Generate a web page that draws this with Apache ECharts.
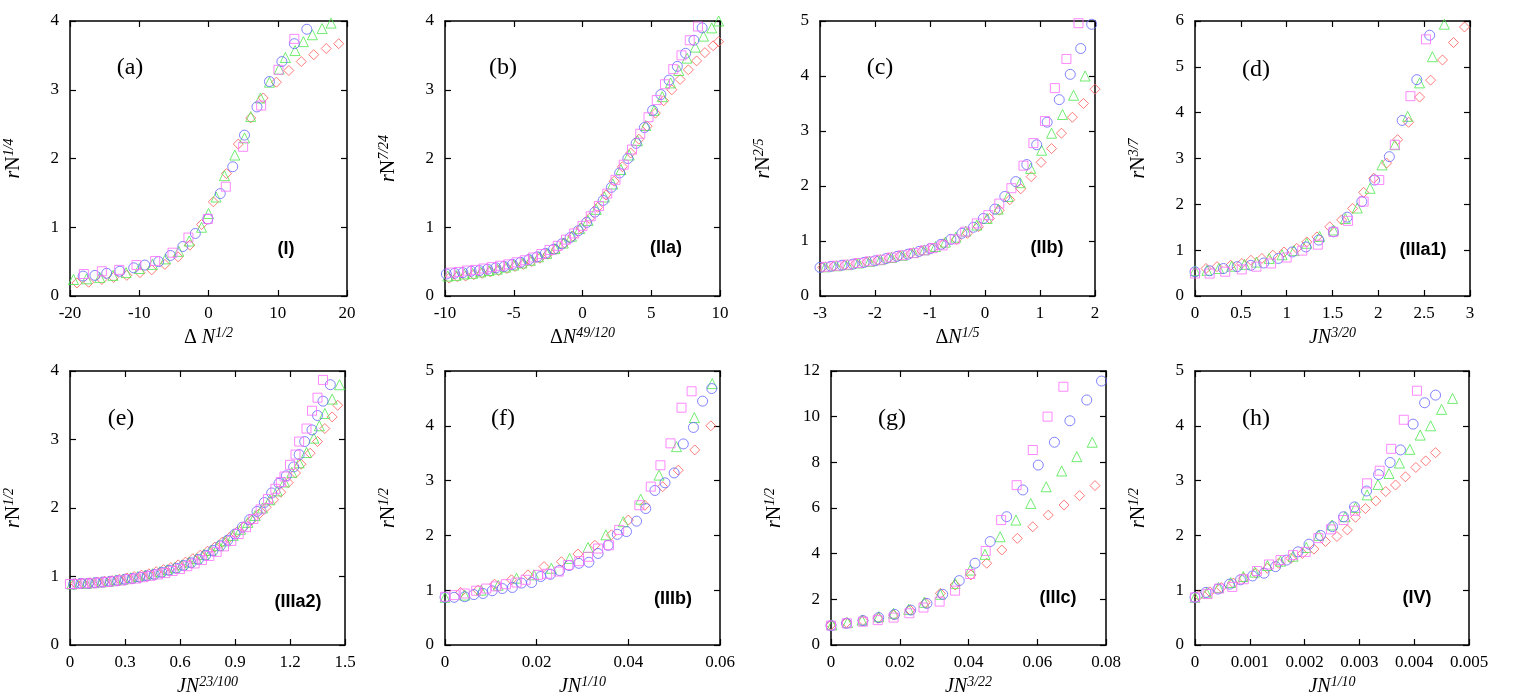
<!DOCTYPE html>
<html>
<head>
<meta charset="utf-8">
<script src="https://cdn.jsdelivr.net/npm/echarts@6.0.0/dist/echarts.min.js"></script>
<style>
  body { margin: 0; background: #fff; }
  #chart { width: 1514px; height: 700px; }
</style>
</head>
<body>
<div id="chart"></div>
<script>
// 数据: 每个面板四组点 (magenta 方块, blue 圆, green 三角, red 菱形)
// (a) regime I
const aMagenta = [[-18.0,0.32],[-15.4,0.36],[-12.9,0.38],[-10.4,0.45],[-7.7,0.51],[-5.2,0.63],[-2.9,0.85],[-0.1,1.12],[2.5,1.59],[5.0,2.17],[7.6,2.77],[10.1,3.29],[12.4,3.74]]
const aBlue = [[-18.1,0.29],[-16.4,0.30],[-14.7,0.33],[-12.8,0.36],[-10.8,0.41],[-9.2,0.45],[-7.2,0.50],[-5.5,0.59],[-3.7,0.72],[-1.9,0.91],[-0.1,1.12],[1.7,1.49],[3.5,1.88],[5.2,2.34],[7.0,2.75],[8.8,3.12],[10.6,3.41],[12.4,3.67],[14.2,3.88]]
const aGreen = [[-19.5,0.24],[-17.6,0.25],[-15.7,0.27],[-13.8,0.30],[-11.9,0.34],[-10.0,0.40],[-8.1,0.46],[-6.2,0.54],[-4.3,0.65],[-2.8,0.80],[-1.0,1.0],[0.0,1.2],[1.1,1.44],[2.3,1.75],[3.8,2.05],[5.2,2.3],[6.1,2.61],[7.5,2.88],[8.8,3.11],[10.2,3.3],[11.1,3.47],[12.5,3.57],[13.7,3.70],[15.0,3.80],[16.4,3.89],[17.7,3.97]]
const aRed = [[-19.0,0.19],[-17.3,0.20],[-15.4,0.24],[-13.7,0.27],[-11.8,0.30],[-9.9,0.34],[-8.2,0.38],[-6.3,0.46],[-4.4,0.57],[-2.7,0.74],[-1.0,1.04],[0.7,1.37],[2.6,1.78],[4.3,2.21],[6.1,2.59],[7.9,2.88],[9.8,3.11],[11.6,3.28],[13.4,3.41],[15.2,3.51],[17.0,3.60],[18.8,3.67]]

// (b) regime IIa
const bMagenta = [[-9.6,0.34],[-9.0,0.35],[-8.4,0.37],[-7.8,0.38],[-7.2,0.40],[-6.6,0.42],[-6.0,0.44],[-5.4,0.46],[-4.8,0.49],[-4.2,0.52],[-3.6,0.56],[-3.0,0.61],[-2.4,0.67],[-1.8,0.73],[-1.2,0.82],[-0.6,0.91],[0.0,1.02],[0.6,1.16],[1.2,1.31],[1.8,1.49],[2.4,1.69],[3.0,1.91],[3.6,2.13],[4.2,2.36],[4.8,2.6],[5.4,2.85],[6.0,3.08],[6.6,3.3],[7.2,3.5],[7.8,3.72],[8.4,3.92]]
const bBlue = [[-9.9,0.32],[-9.3,0.33],[-8.7,0.34],[-8.1,0.36],[-7.5,0.37],[-6.9,0.39],[-6.3,0.41],[-5.7,0.43],[-5.1,0.46],[-4.5,0.49],[-3.9,0.53],[-3.3,0.57],[-2.7,0.62],[-2.1,0.68],[-1.5,0.76],[-0.9,0.85],[-0.3,0.95],[0.3,1.07],[0.9,1.22],[1.5,1.39],[2.1,1.58],[2.7,1.79],[3.3,2.0],[3.9,2.22],[4.5,2.45],[5.1,2.7],[5.7,2.93],[6.3,3.14],[6.9,3.34],[7.5,3.53],[8.1,3.72],[8.7,3.9]]
const bGreen = [[-9.8,0.29],[-9.2,0.30],[-8.6,0.32],[-8.0,0.33],[-7.4,0.35],[-6.8,0.37],[-6.2,0.39],[-5.6,0.42],[-5.0,0.45],[-4.4,0.48],[-3.8,0.52],[-3.2,0.57],[-2.6,0.62],[-2.0,0.69],[-1.4,0.77],[-0.8,0.87],[-0.2,0.98],[0.4,1.1],[1.0,1.26],[1.6,1.44],[2.2,1.63],[2.8,1.84],[3.4,2.05],[4.0,2.26],[4.6,2.48],[5.2,2.7],[5.8,2.9],[6.4,3.1],[7.0,3.28],[7.6,3.46],[8.2,3.62],[8.8,3.78],[9.4,3.9],[9.9,4.0]]
const bRed = [[-9.7,0.26],[-9.1,0.28],[-8.5,0.29],[-7.9,0.31],[-7.3,0.33],[-6.7,0.35],[-6.1,0.37],[-5.5,0.40],[-4.9,0.43],[-4.3,0.46],[-3.7,0.5],[-3.1,0.55],[-2.5,0.61],[-1.9,0.68],[-1.3,0.77],[-0.7,0.87],[-0.1,0.99],[0.5,1.13],[1.1,1.29],[1.7,1.47],[2.3,1.67],[2.9,1.88],[3.5,2.08],[4.1,2.28],[4.7,2.47],[5.3,2.66],[5.9,2.84],[6.5,3.0],[7.1,3.15],[7.7,3.29],[8.3,3.42],[8.9,3.54],[9.5,3.64],[9.9,3.7]]

// (c) regime IIb
const cMagenta = [[-2.9,0.53],[-2.7,0.55],[-2.5,0.57],[-2.3,0.6],[-2.1,0.63],[-1.9,0.66],[-1.7,0.7],[-1.5,0.74],[-1.3,0.78],[-1.1,0.83],[-0.95,0.87],[-0.77,0.92],[-0.55,1.03],[-0.36,1.17],[-0.15,1.32],[0.06,1.47],[0.26,1.68],[0.48,1.96],[0.7,2.37],[0.88,2.78],[1.09,3.18],[1.27,3.78],[1.48,4.31],[1.7,4.96]]
const cBlue = [[-3.0,0.52],[-2.8,0.54],[-2.6,0.56],[-2.4,0.58],[-2.2,0.61],[-2.0,0.64],[-1.8,0.68],[-1.6,0.72],[-1.4,0.76],[-1.2,0.81],[-1.0,0.86],[-0.8,0.94],[-0.62,1.03],[-0.42,1.14],[-0.21,1.25],[-0.03,1.41],[0.18,1.58],[0.36,1.81],[0.56,2.08],[0.76,2.39],[0.94,2.75],[1.13,3.16],[1.35,3.57],[1.55,4.03],[1.74,4.5],[1.94,4.94]]
const cGreen = [[-2.9,0.53],[-2.7,0.55],[-2.5,0.57],[-2.3,0.6],[-2.1,0.63],[-1.9,0.66],[-1.7,0.7],[-1.5,0.74],[-1.3,0.79],[-1.1,0.84],[-0.9,0.9],[-0.72,0.98],[-0.53,1.07],[-0.35,1.18],[-0.15,1.29],[0.04,1.41],[0.24,1.58],[0.42,1.81],[0.64,2.06],[0.83,2.32],[1.03,2.65],[1.21,2.96],[1.41,3.3],[1.61,3.65],[1.82,4.0]]
const cRed = [[-2.95,0.52],[-2.75,0.54],[-2.55,0.56],[-2.35,0.59],[-2.15,0.62],[-1.95,0.65],[-1.75,0.69],[-1.55,0.73],[-1.35,0.77],[-1.15,0.82],[-0.95,0.87],[-0.75,0.95],[-0.52,1.03],[-0.32,1.14],[-0.12,1.26],[0.08,1.41],[0.26,1.56],[0.45,1.75],[0.65,1.95],[0.84,2.17],[1.02,2.43],[1.21,2.68],[1.39,2.96],[1.59,3.25],[1.79,3.5],[2.0,3.76]]

// (d) regime IIIa1
const dMagenta = [[0,0.49],[0.16,0.49],[0.33,0.53],[0.51,0.58],[0.67,0.64],[0.83,0.71],[1.0,0.84],[1.17,0.99],[1.34,1.12],[1.51,1.4],[1.67,1.64],[1.84,2.06],[2.01,2.53],[2.18,3.3],[2.35,4.36],[2.52,5.6]]
const dBlue = [[0,0.53],[0.16,0.55],[0.31,0.6],[0.46,0.64],[0.61,0.67],[0.75,0.72],[0.91,0.82],[1.06,0.96],[1.21,1.07],[1.35,1.22],[1.51,1.4],[1.66,1.72],[1.82,2.06],[1.96,2.53],[2.12,3.04],[2.26,3.83],[2.42,4.72],[2.56,5.69]]
const dGreen = [[0,0.55],[0.13,0.56],[0.26,0.6],[0.4,0.65],[0.54,0.69],[0.67,0.74],[0.81,0.82],[0.95,0.9],[1.08,0.99],[1.22,1.15],[1.36,1.3],[1.51,1.44],[1.64,1.69],[1.77,1.92],[1.91,2.35],[2.04,2.86],[2.18,3.3],[2.32,3.92],[2.45,4.65],[2.59,5.22],[2.72,5.93]]
const dRed = [[0.12,0.6],[0.24,0.64],[0.39,0.67],[0.51,0.71],[0.61,0.78],[0.73,0.82],[0.85,0.89],[0.97,0.96],[1.11,1.04],[1.22,1.18],[1.33,1.29],[1.47,1.51],[1.6,1.66],[1.72,1.91],[1.84,2.26],[1.95,2.57],[2.09,2.9],[2.21,3.41],[2.33,3.79],[2.45,4.34],[2.57,4.71],[2.7,5.15],[2.82,5.53],[2.94,5.87]]

// (e) regime IIIa2
const eMagenta = [[0.0,0.89],[0.04,0.89],[0.08,0.9],[0.12,0.9],[0.16,0.91],[0.2,0.92],[0.24,0.93],[0.28,0.94],[0.32,0.96],[0.36,0.97],[0.4,0.99],[0.44,1.01],[0.48,1.03],[0.52,1.05],[0.56,1.08],[0.6,1.11],[0.64,1.15],[0.68,1.19],[0.72,1.24],[0.76,1.3],[0.8,1.36],[0.84,1.44],[0.88,1.52],[0.92,1.62],[0.96,1.72],[1.0,1.84],[1.04,1.98],[1.08,2.13],[1.12,2.28],[1.15,2.38],[1.17,2.46],[1.2,2.63],[1.23,2.78],[1.25,2.97],[1.29,3.16],[1.32,3.42],[1.35,3.61],[1.38,3.87]]
const eBlue = [[0.02,0.89],[0.06,0.9],[0.1,0.9],[0.14,0.91],[0.18,0.92],[0.22,0.93],[0.26,0.94],[0.3,0.96],[0.34,0.97],[0.38,0.99],[0.42,1.01],[0.46,1.03],[0.5,1.06],[0.54,1.09],[0.58,1.12],[0.62,1.16],[0.66,1.2],[0.7,1.25],[0.74,1.31],[0.78,1.38],[0.82,1.45],[0.86,1.53],[0.9,1.62],[0.94,1.72],[0.98,1.83],[1.02,1.95],[1.06,2.08],[1.1,2.22],[1.14,2.36],[1.18,2.47],[1.22,2.6],[1.25,2.78],[1.28,2.97],[1.32,3.14],[1.35,3.35],[1.38,3.56],[1.42,3.8]]
const eGreen = [[0.01,0.89],[0.05,0.9],[0.09,0.9],[0.13,0.91],[0.17,0.92],[0.21,0.93],[0.25,0.95],[0.29,0.96],[0.33,0.98],[0.37,1.0],[0.41,1.02],[0.45,1.04],[0.49,1.07],[0.53,1.1],[0.57,1.13],[0.61,1.17],[0.65,1.21],[0.69,1.26],[0.73,1.32],[0.77,1.38],[0.81,1.45],[0.85,1.52],[0.89,1.6],[0.93,1.69],[0.97,1.79],[1.01,1.89],[1.05,2.0],[1.09,2.12],[1.13,2.25],[1.17,2.38],[1.21,2.52],[1.25,2.66],[1.29,2.81],[1.33,3.02],[1.36,3.2],[1.39,3.38],[1.43,3.59],[1.47,3.8]]
const eRed = [[0.03,0.9],[0.07,0.9],[0.11,0.91],[0.15,0.92],[0.19,0.93],[0.23,0.94],[0.27,0.96],[0.31,0.98],[0.35,1.0],[0.39,1.02],[0.43,1.04],[0.47,1.07],[0.51,1.1],[0.55,1.13],[0.59,1.17],[0.63,1.21],[0.67,1.26],[0.71,1.31],[0.75,1.37],[0.79,1.43],[0.83,1.5],[0.87,1.57],[0.91,1.65],[0.95,1.73],[0.99,1.82],[1.03,1.91],[1.07,2.01],[1.11,2.12],[1.15,2.23],[1.19,2.37],[1.23,2.51],[1.26,2.64],[1.31,2.8],[1.35,2.97],[1.39,3.16],[1.43,3.33],[1.46,3.5]]

// (f) regime IIIb
const fMagenta = [[0.0,0.88],[0.0021,0.91],[0.0043,0.94],[0.0068,0.99],[0.009,1.03],[0.0111,1.07],[0.0133,1.11],[0.0156,1.14],[0.0176,1.19],[0.0203,1.28],[0.0223,1.3],[0.0248,1.34],[0.0269,1.46],[0.0293,1.53],[0.0312,1.61],[0.0334,1.76],[0.0358,1.82],[0.038,2.1],[0.0424,2.55],[0.0449,2.89],[0.047,3.28],[0.0492,3.68],[0.0516,4.33],[0.0538,4.63]]
const fBlue = [[0.0,0.87],[0.002,0.87],[0.0043,0.88],[0.0063,0.92],[0.0083,0.94],[0.0103,0.99],[0.0125,1.03],[0.0147,1.05],[0.0167,1.13],[0.0189,1.14],[0.0209,1.25],[0.023,1.29],[0.025,1.36],[0.0271,1.45],[0.0292,1.49],[0.0314,1.51],[0.0334,1.67],[0.0356,1.82],[0.0376,2.02],[0.0396,2.07],[0.0418,2.26],[0.0438,2.49],[0.0458,2.82],[0.048,2.96],[0.05,3.14],[0.052,3.67],[0.0542,3.97],[0.0562,4.45],[0.0582,4.68]]
const fGreen = [[0.0,0.87],[0.0043,0.91],[0.0079,1.0],[0.0116,1.09],[0.0156,1.22],[0.0194,1.28],[0.0232,1.4],[0.0272,1.58],[0.0312,1.78],[0.0351,2.01],[0.0389,2.25],[0.0427,2.66],[0.0467,3.1],[0.0505,3.62],[0.0544,4.15],[0.0583,4.77]]
const fRed = [[0.0034,0.96],[0.0072,1.0],[0.0108,1.11],[0.0145,1.19],[0.0181,1.28],[0.0216,1.43],[0.0254,1.52],[0.029,1.66],[0.0327,1.82],[0.0363,2.01],[0.04,2.28],[0.0436,2.55],[0.0475,2.89],[0.0509,3.19],[0.0545,3.56],[0.058,4.0]]

// (g) regime IIIc
const gMagenta = [[0.0,0.85],[0.0046,0.95],[0.0093,1.02],[0.0136,1.09],[0.0182,1.2],[0.0228,1.39],[0.0269,1.64],[0.0316,1.9],[0.0361,2.38],[0.0405,3.11],[0.045,4.12],[0.0495,5.47],[0.054,7.0],[0.0587,8.54],[0.063,10.0],[0.0676,11.31]]
const gBlue = [[0.0,0.85],[0.0045,0.95],[0.0093,1.07],[0.0139,1.2],[0.0185,1.34],[0.0232,1.53],[0.0279,1.82],[0.0325,2.22],[0.0373,2.82],[0.0419,3.58],[0.0463,4.53],[0.0511,5.62],[0.0558,6.79],[0.0603,7.88],[0.065,8.88],[0.0695,9.82],[0.0744,10.73],[0.0787,11.56]]
const gGreen = [[0.0003,0.88],[0.0048,0.98],[0.009,1.09],[0.0139,1.24],[0.0182,1.39],[0.0226,1.56],[0.0271,1.87],[0.0318,2.22],[0.0361,2.7],[0.0405,3.28],[0.0448,3.97],[0.0492,4.74],[0.0538,5.47],[0.0581,6.2],[0.0626,6.93],[0.0671,7.62],[0.0715,8.25],[0.076,8.88]]
const gRed = [[0.0,0.88],[0.0045,0.98],[0.0093,1.07],[0.0137,1.17],[0.0182,1.31],[0.023,1.53],[0.0274,1.85],[0.0318,2.26],[0.0361,2.63],[0.0407,3.07],[0.0453,3.58],[0.0497,4.16],[0.0542,4.67],[0.0587,5.18],[0.0632,5.69],[0.0678,6.13],[0.0723,6.54],[0.0768,6.98]]

// (h) regime IV
const hMagenta = [[0.0,0.87],[0.00023,0.93],[0.00044,1.03],[0.00068,1.06],[0.00089,1.2],[0.00113,1.35],[0.00135,1.47],[0.00156,1.55],[0.00179,1.64],[0.00202,1.7],[0.00225,1.95],[0.00248,2.11],[0.00271,2.28],[0.00292,2.45],[0.00314,2.95],[0.00337,3.18],[0.00358,3.58],[0.00381,4.11],[0.00405,4.64]]
const hBlue = [[0.0,0.87],[0.0002,0.96],[0.00042,1.02],[0.00063,1.11],[0.00083,1.19],[0.00105,1.26],[0.00126,1.31],[0.00147,1.43],[0.00167,1.55],[0.00188,1.7],[0.00208,1.84],[0.00229,2.0],[0.00251,2.16],[0.00271,2.34],[0.00291,2.52],[0.00313,2.81],[0.00335,3.11],[0.00356,3.33],[0.00375,3.56],[0.00398,4.03],[0.00419,4.42],[0.00439,4.56]]
const hGreen = [[0.0,0.87],[0.00021,0.95],[0.00043,1.05],[0.00065,1.14],[0.00088,1.25],[0.00109,1.33],[0.00132,1.45],[0.00156,1.53],[0.00179,1.62],[0.00203,1.78],[0.00226,2.0],[0.0025,2.19],[0.00274,2.34],[0.00293,2.51],[0.00314,2.74],[0.00334,2.93],[0.00354,3.13],[0.00373,3.32],[0.00392,3.57],[0.00411,3.83],[0.0043,4.0],[0.0045,4.3],[0.0047,4.5]]
const hRed = [[0.00007,0.9],[0.00027,0.97],[0.00048,1.05],[0.0007,1.13],[0.00089,1.22],[0.00111,1.31],[0.00132,1.4],[0.00153,1.49],[0.00175,1.58],[0.00196,1.67],[0.00217,1.75],[0.00238,1.89],[0.00259,1.98],[0.00278,2.1],[0.00293,2.33],[0.00311,2.49],[0.0033,2.63],[0.00348,2.8],[0.00366,2.92],[0.00384,3.07],[0.00403,3.24],[0.00421,3.36],[0.00439,3.51]]

const serif = '"Liberation Serif", "DejaVu Serif", serif'
const sans = '"Liberation Sans", Arial, sans-serif'

// 四种点的样式
const markers = [
  { key: 'red', symbol: 'diamond', size: 10, color: '#ff5a5a' },
  { key: 'green', symbol: 'triangle', size: 10, color: '#4ee84e' },
  { key: 'blue', symbol: 'circle', size: 10, color: '#6464ff' },
  { key: 'magenta', symbol: 'rect', size: 9, color: '#ff6cff' }
]

// 面板布局: box = [left, top, width, height]
const panels = [
  { box: [70, 21, 277, 275], x: [-20, 20, 10], y: [0, 4, 1], tag: '(a)', tagPos: [130, 68], reg: '(I)', regPos: [286, 249],
    xName: '{rm|Δ }{it|N}{sup|1/2}', yName: '{it|r}{rm|N}{sup|1/4}', data: { magenta: aMagenta, blue: aBlue, green: aGreen, red: aRed } },
  { box: [445, 21, 275, 275], x: [-10, 10, 5], y: [0, 4, 1], tag: '(b)', tagPos: [503, 68], reg: '(IIa)', regPos: [666, 248],
    xName: '{rm|Δ}{it|N}{sup|49/120}', yName: '{it|r}{rm|N}{sup|7/24}', data: { magenta: bMagenta, blue: bBlue, green: bGreen, red: bRed } },
  { box: [820, 21, 275, 275], x: [-3, 2, 1], y: [0, 5, 1], tag: '(c)', tagPos: [880, 68], reg: '(IIb)', regPos: [1047, 248],
    xName: '{rm|Δ}{it|N}{sup|1/5}', yName: '{it|r}{rm|N}{sup|2/5}', data: { magenta: cMagenta, blue: cBlue, green: cGreen, red: cRed } },
  { box: [1195, 21, 275, 275], x: [0, 3, 0.5], y: [0, 6, 1], tag: '(d)', tagPos: [1256, 70], reg: '(IIIa1)', regPos: [1423, 250],
    xName: '{it|JN}{sup|3/20}', yName: '{it|r}{rm|N}{sup|3/7}', data: { magenta: dMagenta, blue: dBlue, green: dGreen, red: dRed } },
  { box: [70, 371, 275, 274], x: [0, 1.5, 0.3], y: [0, 4, 1], tag: '(e)', tagPos: [121, 419], reg: '(IIIa2)', regPos: [298, 602],
    xName: '{it|JN}{sup|23/100}', yName: '{it|r}{rm|N}{sup|1/2}', data: { magenta: eMagenta, blue: eBlue, green: eGreen, red: eRed } },
  { box: [445, 371, 275, 274], x: [0, 0.06, 0.02], y: [0, 5, 1], tag: '(f)', tagPos: [503, 419], reg: '(IIIb)', regPos: [673, 599],
    xName: '{it|JN}{sup|1/10}', yName: '{it|r}{rm|N}{sup|1/2}', data: { magenta: fMagenta, blue: fBlue, green: fGreen, red: fRed } },
  { box: [831, 371, 275, 274], x: [0, 0.08, 0.02], y: [0, 12, 2], tag: '(g)', tagPos: [892, 419], reg: '(IIIc)', regPos: [1058, 598],
    xName: '{it|JN}{sup|3/22}', yName: '{it|r}{rm|N}{sup|1/2}', data: { magenta: gMagenta, blue: gBlue, green: gGreen, red: gRed } },
  { box: [1195, 371, 274, 274], x: [0, 0.005, 0.001], y: [0, 5, 1], tag: '(h)', tagPos: [1256, 419], reg: '(IV)', regPos: [1417, 598],
    xName: '{it|JN}{sup|1/10}', yName: '{it|r}{rm|N}{sup|1/2}', data: { magenta: hMagenta, blue: hBlue, green: hGreen, red: hRed } }
]

const rich = {
  it: { fontFamily: serif, fontStyle: 'italic', fontSize: 20, lineHeight: 24, color: '#000' },
  rm: { fontFamily: serif, fontSize: 20, lineHeight: 24, color: '#000' },
  sup: { fontFamily: serif, fontStyle: 'italic', fontSize: 14, lineHeight: 14, verticalAlign: 'top', color: '#000' }
}

const fmt = v => String(parseFloat(v.toFixed(6)))

const option = { animation: false, backgroundColor: '#fff', grid: [], xAxis: [], yAxis: [], series: [], graphic: [] }

panels.forEach((p, i) => {
  option.grid.push({ left: p.box[0], top: p.box[1], width: p.box[2], height: p.box[3] })
  const axisLine = { show: true, onZero: false, lineStyle: { color: '#000', width: 1.5 } }
  const axisTick = { show: true, inside: true, length: 6, lineStyle: { color: '#000', width: 1.2 } }
  const label = { color: '#000', fontFamily: serif, fontSize: 17, formatter: fmt }
  const common = { type: 'value', gridIndex: i, axisLine, axisTick, splitLine: { show: false } }
  // 下 / 上
  option.xAxis.push(Object.assign({}, common, {
    position: 'bottom', min: p.x[0], max: p.x[1], interval: p.x[2],
    axisLabel: Object.assign({ margin: 9 }, label),
    name: p.xName, nameLocation: 'middle', nameGap: 30, nameTextStyle: { rich }
  }))
  option.xAxis.push(Object.assign({}, common, {
    position: 'top', min: p.x[0], max: p.x[1], interval: p.x[2], axisLabel: { show: false }
  }))
  // 左 / 右
  option.yAxis.push(Object.assign({}, common, {
    position: 'left', min: p.y[0], max: p.y[1], interval: p.y[2],
    axisLabel: Object.assign({ margin: 11 }, label),
    name: p.yName, nameLocation: 'middle', nameGap: 44, nameTextStyle: { rich }
  }))
  option.yAxis.push(Object.assign({}, common, {
    position: 'right', min: p.y[0], max: p.y[1], interval: p.y[2], axisLabel: { show: false }
  }))
  markers.forEach(m => {
    option.series.push({
      type: 'scatter', xAxisIndex: 2 * i, yAxisIndex: 2 * i, silent: true,
      symbol: m.symbol, symbolSize: m.size, data: p.data[m.key],
      itemStyle: { color: 'transparent', borderColor: m.color, borderWidth: 1 }
    })
  })
  option.graphic.push({
    type: 'text', x: p.tagPos[0], y: p.tagPos[1],
    style: { text: p.tag, font: '24px ' + serif, fill: '#000', textAlign: 'center', textVerticalAlign: 'middle', align: 'center', verticalAlign: 'middle' }
  })
  option.graphic.push({
    type: 'text', x: p.regPos[0], y: p.regPos[1],
    style: { text: p.reg, font: 'bold 18px ' + sans, fill: '#000', textAlign: 'center', textVerticalAlign: 'middle', align: 'center', verticalAlign: 'middle' }
  })
})

const myChart = echarts.init(document.getElementById('chart'))
myChart.setOption(option)
</script>
</body>
</html>
